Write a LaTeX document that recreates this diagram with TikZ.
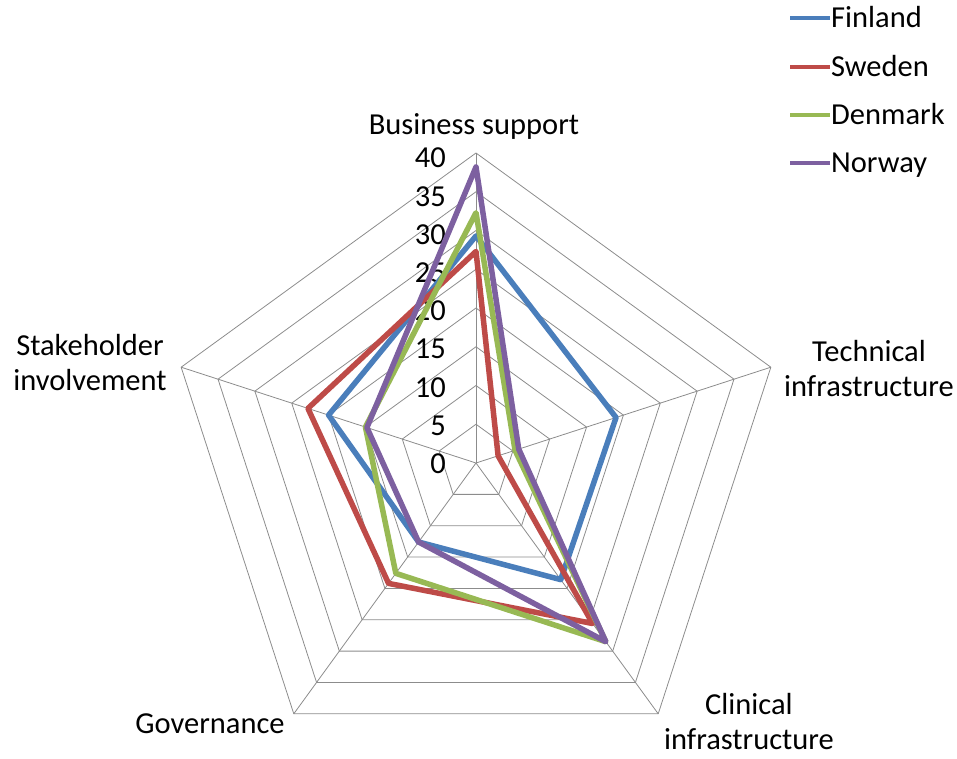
\documentclass[tikz,border=0pt]{standalone}
\usepackage{fontspec}
\setmainfont{Carlito}
\usepackage{tikz}

\definecolor{finblue}{HTML}{4A7EBB}
\definecolor{swered}{HTML}{BE4B48}
\definecolor{dengreen}{HTML}{98B954}
\definecolor{norpurple}{HTML}{7D60A0}
\definecolor{gridgray}{HTML}{8C8C8C}

\begin{document}
\begin{tikzpicture}[x=1pt, y=1pt, font=\fontsize{30.5}{35}\selectfont,
		gridline/.style={gridgray, line width=0.8pt},
		series/.style={line width=5.5pt, line join=round},
		finland/.style={series, finblue},
		sweden/.style={series, swered},
		denmark/.style={series, dengreen},
		norway/.style={series, norpurple},
		ticklabel/.style={anchor=east, inner sep=0pt}]
		\def\u{7.75}
		\useasboundingbox (-476, -295) rectangle (481, 463);
		% web
		\foreach \r in {5,10,...,40}
			\draw[gridline] (90:\r*\u) -- (18:\r*\u) -- (-54:\r*\u) -- (-126:\r*\u) -- (162:\r*\u) -- cycle;
		\foreach \a in {90,18,-54,-126,162}
			\draw[gridline] (0, 0) -- (\a:40*\u);
		\foreach \v in {0,5,...,40}
			\node[ticklabel] (t\v) at (-30, {7.65*\v-1}) {\v};
		% series
		\draw[finland] (90:29.3*\u) -- (18:19*\u) -- (-54:18.6*\u) -- (-126:12.6*\u) -- (162:20*\u) -- cycle;
		\draw[sweden] (90:27.3*\u) -- (18:3*\u) -- (-54:25.6*\u) -- (-126:19.2*\u) -- (162:22.8*\u) -- cycle;
		\draw[denmark] (90:32.3*\u) -- (18:5.3*\u) -- (-54:28.5*\u) -- (-126:17.6*\u) -- (162:15*\u) -- cycle;
		\draw[norway] (90:38.2*\u) -- (18:5.8*\u) -- (-54:28.5*\u) -- (-126:12.6*\u) -- (162:14.8*\u) -- cycle;
		% axis names
		\node[anchor=base, inner sep=0pt] (bs) at (-2, 328) {Business support};
		\node[align=center, inner sep=0pt] (ti) at (393, 94.5) {Technical\\infrastructure};
		\node[align=center, inner sep=0pt] (ci) at (273, -258.5) {Clinical\\infrastructure};
		\node[anchor=base, inner sep=0pt] (gov) at (-266, -270) {Governance};
		\node[align=center, inner sep=0pt] (si) at (-386, 100.5) {Stakeholder\\involvement};
		% legend
		\foreach \c/\name/\y in {finland/Finland/445, sweden/Sweden/396, denmark/Denmark/348, norway/Norway/300}{
			\draw[\c, line width=4pt] (314, \y) -- (354, \y);
			\node[anchor=base west, inner sep=0pt] (l\name) at (355, \y-10) {\name};
		}
	\end{tikzpicture}
\end{document}
